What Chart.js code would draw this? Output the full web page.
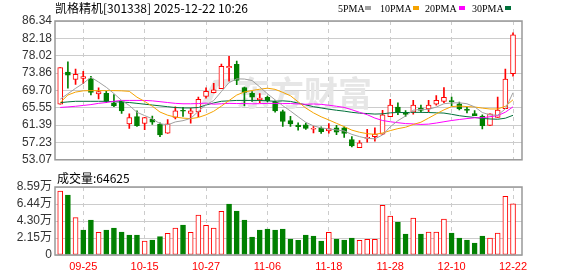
<!DOCTYPE html>
<html><head><meta charset="utf-8">
<script src="https://cdn.jsdelivr.net/npm/chart.js@4/dist/chart.umd.min.js"></script>
<style>
html,body{margin:0;padding:0;background:#fff;}
#wrap{position:relative;width:578px;height:276px;overflow:hidden;background:#fff;}
#c1{position:absolute;left:0;top:0;}
#c2{position:absolute;left:0;top:170px;}
</style></head><body>
<div id="wrap"><canvas id="c1" width="578" height="170"></canvas><canvas id="c2" width="578" height="106"></canvas></div>
<script>
const stockName = '凯格精机';
const stockCode = '301338';
const stamp = '2025-12-22 10:26';

const dates = ['09-22','09-23','09-24','09-25','09-26','09-29','09-30','10-09','10-10','10-13','10-14','10-15','10-16','10-17','10-20','10-21','10-22','10-23','10-24','10-27','10-28','10-29','10-30','10-31','11-03','11-04','11-05','11-06','11-07','11-10','11-11','11-12','11-13','11-14','11-17','11-18','11-19','11-20','11-21','11-24','11-25','11-26','11-27','11-28','12-01','12-02','12-03','12-04','12-05','12-08','12-09','12-10','12-11','12-12','12-15','12-16','12-17','12-18','12-19','12-22'];
const tickDates = ['09-25','10-15','10-27','11-06','11-18','11-28','12-10','12-22'];

const openP  = [66.40,74.09,72.32,72.55,72.48,68.85,69.01,66.70,67.09,61.69,63.40,61.78,62.79,61.55,59.47,63.23,64.85,64.16,64.55,68.25,69.17,70.10,75.15,75.94,70.40,69.01,67.47,68.02,67.09,64.62,62.47,61.39,61.47,60.40,60.62,60.00,60.76,60.76,57.92,55.99,58.20,58.61,59.24,63.40,65.70,64.46,64.46,65.47,65.24,66.40,67.09,67.23,66.47,65.24,64.16,63.54,61.32,63.23,65.31,73.70];
const highP  = [75.18,76.57,74.79,74.25,73.10,70.33,69.47,68.71,67.23,64.09,64.78,63.25,63.54,61.92,62.70,65.78,65.62,65.38,68.09,70.33,71.39,76.01,77.86,76.71,70.50,69.40,68.94,68.32,67.20,65.01,63.47,61.92,61.85,61.15,60.99,61.78,61.32,60.99,58.61,57.69,60.39,60.76,64.92,67.55,66.70,64.85,67.32,66.17,67.32,68.48,70.40,68.09,66.93,65.62,64.85,63.86,64.09,68.09,74.79,83.50];
const lowP   = [66.40,70.24,71.16,71.32,68.62,67.69,66.77,65.78,64.16,60.62,61.08,60.30,61.55,58.61,59.40,62.84,63.47,61.85,63.40,67.86,69.10,70.10,71.94,71.09,66.01,67.09,66.77,66.93,64.46,61.08,61.08,60.16,60.38,59.54,59.38,59.47,59.08,58.45,56.14,55.99,57.30,57.53,59.08,63.40,63.86,63.47,64.00,64.46,64.62,66.17,66.77,66.01,65.01,64.32,63.62,60.46,61.32,63.23,65.31,73.10];
const closeP = [75.18,73.33,73.56,73.01,69.24,69.40,67.09,66.01,64.78,63.17,61.23,63.17,62.08,59.01,61.69,64.78,64.70,64.78,67.55,69.47,69.87,75.50,75.45,72.08,69.24,68.09,67.86,67.23,64.78,62.24,61.69,61.00,60.60,60.46,59.84,60.53,59.70,59.38,56.37,57.16,58.40,59.24,63.86,66.17,64.62,63.93,66.17,64.92,66.17,67.32,68.02,67.00,65.24,64.92,63.62,61.23,64.09,65.01,72.41,83.04];
const volume = [80800,75800,47200,31600,44200,28600,31600,34100,29100,25300,25300,17700,18900,23200,27400,34100,37900,28600,50500,37500,34100,55200,64400,55600,44200,22700,31600,32800,31600,32800,20200,18600,25300,24000,17700,28600,20200,18900,21500,18600,19800,19800,62700,49300,41700,26500,46700,26500,29100,29100,45500,27800,21500,18900,15200,24000,21500,27800,74100,64625];

const ma5  = [67.60,68.90,70.20,71.40,72.86,71.71,70.46,68.95,67.30,66.09,64.46,63.67,62.89,61.73,61.44,62.15,62.45,62.99,64.70,66.26,67.27,69.43,71.57,72.47,72.43,72.07,70.54,68.90,67.44,66.04,64.76,63.39,62.06,61.20,60.72,60.49,60.23,59.98,59.16,58.63,58.20,58.11,59.01,60.97,62.46,63.56,64.95,65.16,65.16,65.70,66.52,66.69,66.75,66.50,65.76,64.40,63.82,63.77,65.27,69.16];
const ma10 = [66.80,68.60,69.30,69.60,69.65,69.65,69.65,69.65,69.60,69.48,68.08,67.07,65.92,64.52,63.76,63.30,63.06,62.94,63.22,63.85,64.71,65.94,67.28,68.59,69.34,69.67,69.99,70.23,69.96,69.23,68.42,66.97,65.48,64.32,63.38,62.62,61.81,61.02,60.18,59.67,59.34,59.17,59.49,60.07,60.54,60.88,61.53,62.08,63.06,64.08,65.04,65.82,65.96,65.83,65.73,65.46,65.25,65.26,65.89,67.46];
const ma20 = [65.62,65.75,65.90,66.10,66.30,66.60,66.80,67.10,67.30,67.30,67.30,67.30,67.20,67.00,66.80,66.60,66.50,66.50,66.55,66.66,66.40,66.50,66.60,66.55,66.55,66.49,66.53,66.59,66.59,66.54,66.56,66.45,66.38,66.45,66.36,66.15,65.90,65.63,65.07,64.45,63.88,63.07,62.49,62.19,61.96,61.75,61.67,61.55,61.62,61.88,62.19,62.49,62.73,62.95,63.14,63.17,63.39,63.67,64.48,65.77];
const ma30 = [66.77,66.95,67.09,67.09,67.09,67.09,67.09,67.00,66.90,66.80,66.60,66.40,66.20,66.00,65.80,65.60,65.50,65.50,65.60,66.20,66.70,67.10,67.20,67.30,67.30,67.30,67.30,67.20,67.10,67.20,67.07,66.66,66.23,65.81,65.49,65.20,64.95,64.73,64.45,64.25,64.16,64.03,64.09,64.32,64.42,64.39,64.44,64.45,64.40,64.33,64.27,63.98,63.64,63.41,63.22,62.99,62.86,62.79,63.04,63.74];

const priceTicks = [53.07,57.23,61.39,65.55,69.70,73.86,78.02,82.18,86.34];
const volTicks = [0,21475,42950,64425,85900];
const volTickLabels = ['0','2.15万','4.30万','6.44万','8.59万'];
const maNames = ['5PMA','10PMA','20PMA','30PMA'];

const RED = '#ff0000', GREEN = '#008000';
const MA_COLORS = ['#a0a0a0','#f5a300','#ff00ff','#00703a'];
const idx = dates.map((d, i) => i);
const up = idx.map(i => closeP[i] >= openP[i]);
const volUp = idx.map(i => i === 0 ? closeP[0] >= openP[0] : closeP[i] >= closeP[i - 1]);
const tickIdx = tickDates.map(d => dates.indexOf(d));
const XMIN = -0.68, XMAX = 60.17;

const frame = {
  id: 'frame',
  afterDraw(chart) {
    const {ctx, chartArea: a} = chart;
    ctx.save();
    ctx.strokeStyle = '#999';
    ctx.lineWidth = 1.5;
    ctx.strokeRect(a.left, a.top, a.right - a.left, a.bottom - a.top);
    ctx.restore();
  }
};

const header = {
  id: 'header',
  afterDraw(chart) {
    const ctx = chart.ctx;
    ctx.save();
    ctx.textBaseline = 'middle';
    ctx.fillStyle = '#000';
    ctx.font = '12px "Noto Sans CJK SC", sans-serif';
    ctx.fillText(stockName + '[' + stockCode + '] ' + stamp, 55, 8);
    const tx = [338, 380, 425, 472];
    const bx = [365, 413, 459, 505];
    ctx.font = '10px "Liberation Serif", serif';
    maNames.forEach((n, k) => {
      ctx.fillStyle = '#000';
      ctx.fillText(n, tx[k], 9);
      ctx.fillStyle = MA_COLORS[k];
      ctx.fillRect(bx[k], 6, 6, 4);
    });
    ctx.restore();
  }
};

const watermark = {
  id: 'watermark',
  beforeDatasetsDraw(chart) {
    const ctx = chart.ctx;
    ctx.save();
    ctx.fillStyle = '#e6e6e6';
    ctx.beginPath();
    ctx.moveTo(200, 106); ctx.lineTo(214, 80); ctx.lineTo(236, 78);
    ctx.lineTo(226, 86); ctx.lineTo(218, 86); ctx.lineTo(210, 104);
    ctx.closePath(); ctx.fill();
    ctx.font = 'bold 34px "Noto Sans CJK SC", sans-serif';
    ctx.textBaseline = 'middle';
    ctx.fillText('东方财富', 236, 93);
    ctx.restore();
  }
};

const volTitle = {
  id: 'volTitle',
  afterDraw(chart) {
    const ctx = chart.ctx;
    ctx.save();
    ctx.textBaseline = 'middle';
    ctx.fillStyle = '#000';
    ctx.font = '12px "Noto Sans CJK SC", sans-serif';
    ctx.fillText('成交量:' + volume[volume.length - 1], 57, 8);
    ctx.restore();
  }
};

const xScale = (showLabels) => ({
  type: 'linear', min: XMIN, max: XMAX, offset: false,
  afterBuildTicks: s => { s.ticks = tickIdx.map(v => ({value: v})); },
  afterFit: s => { s.height = showLabels ? 21 : 5; },
  ticks: {display: showLabels, autoSkip: false, maxRotation: 0, padding: 5,
    color: RED, font: {size: 11, family: '"Liberation Sans", Arial, sans-serif'},
    callback: v => dates[v]},
  grid: {color: '#cccccc', lineWidth: 1, drawTicks: false, offset: false},
  border: {display: false, dash: [4, 4]}
});

const yCommon = {
  afterFit: s => { s.width = 55; },
  grid: {color: '#cccccc', lineWidth: 1, drawTicks: false},
  border: {display: false}
};

new Chart(document.getElementById('c1'), {
  type: 'bar',
  data: {
    datasets: [
      ...[ma5, ma10, ma20, ma30].map((m, k) => ({
        type: 'line', label: maNames[k], data: idx.map(i => ({x: i, y: m[i]})),
        borderColor: MA_COLORS[k], borderWidth: 1, pointRadius: 0, tension: 0, order: 0
      })),
      {type: 'bar', label: 'body', data: idx.map(i => ({x: i, y: [openP[i], closeP[i]]})),
        backgroundColor: up.map(u => u ? '#ffffff' : GREEN), borderColor: up.map(u => u ? RED : GREEN),
        borderWidth: 1, borderSkipped: false, barThickness: 5, grouped: false, minBarLength: 1, order: 1},
      {type: 'bar', label: 'wick', data: idx.map(i => ({x: i, y: [lowP[i], highP[i]]})),
        backgroundColor: up.map(u => u ? RED : GREEN), borderWidth: 0,
        barThickness: 1, grouped: false, minBarLength: 1, order: 2}
    ]
  },
  options: {
    responsive: false, animation: false, devicePixelRatio: 1,
    layout: {padding: {top: 21, right: 56, left: 0, bottom: 0}},
    plugins: {legend: {display: false}, tooltip: {enabled: false}},
    scales: {
      x: xScale(false),
      y: {...yCommon, min: 53.07, max: 86.34,
        afterBuildTicks: s => { s.ticks = priceTicks.map(v => ({value: v})); },
        ticks: {autoSkip: false, padding: 3, color: '#333', font: {size: 12, family: '"Liberation Sans", Arial, sans-serif'},
          callback: v => v.toFixed(2)}}
    }
  },
  plugins: [watermark, frame, header]
});

new Chart(document.getElementById('c2'), {
  type: 'bar',
  data: {
    datasets: [{
      data: idx.map(i => ({x: i, y: volume[i]})),
      backgroundColor: volUp.map(u => u ? '#ffffff' : GREEN), borderColor: volUp.map(u => u ? RED : GREEN),
      borderWidth: 1, borderSkipped: false, barThickness: 5, grouped: false
    }]
  },
  options: {
    responsive: false, animation: false, devicePixelRatio: 1,
    layout: {padding: {top: 17, right: 56, left: 0, bottom: 0}},
    plugins: {legend: {display: false}, tooltip: {enabled: false}},
    scales: {
      x: xScale(true),
      y: {...yCommon, min: 0, max: 85900,
        afterBuildTicks: s => { s.ticks = volTicks.map(v => ({value: v})); },
        ticks: {autoSkip: false, padding: 3, color: '#333', font: {size: 12, family: '"Liberation Sans", "Noto Sans CJK SC", sans-serif'},
          callback: (v) => volTickLabels[volTicks.indexOf(v)]}}
    }
  },
  plugins: [frame, volTitle]
});
</script>
</body></html>
